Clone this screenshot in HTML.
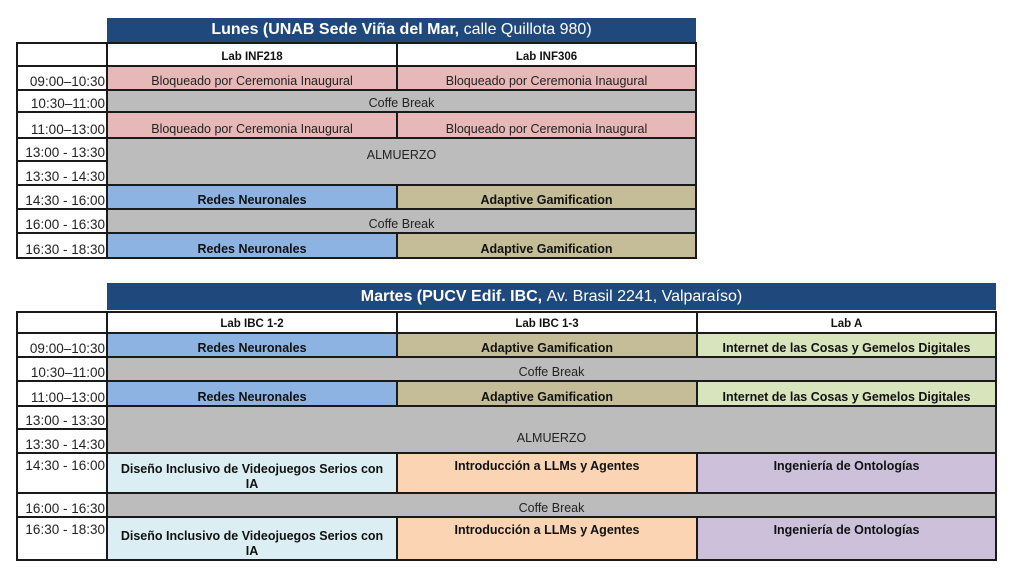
<!DOCTYPE html>
<html><head><meta charset="utf-8"><style>
html,body{margin:0;padding:0;background:#fff;width:1024px;height:575px;overflow:hidden}
body{position:relative;font-family:"Liberation Sans",sans-serif}
.c{position:absolute;box-sizing:border-box;border:2px solid #1a1a1a;display:flex;align-items:flex-end;justify-content:center;text-align:center;font-size:12.5px;color:#222;line-height:15px;padding-bottom:0px;overflow:hidden}
.b{font-weight:bold;color:#111}
.t{justify-content:flex-end;padding-right:1px;font-size:13.5px;background:#fff}
.tt{align-items:flex-start;padding-top:4px}
.h{font-weight:bold;font-size:11.5px;background:#fff;color:#111}
.ti{position:absolute;background:#1f497d;color:#fff;display:flex;align-items:center;justify-content:center;font-size:16px}
</style></head><body>
<div class="ti" style="left:107px;top:18px;width:589px;height:24px"><b>Lunes (UNAB Sede Viña del Mar,</b>&nbsp;calle Quillota 980)</div>
<div class="ti" style="left:107px;top:283px;width:889px;height:27px"><b>Martes (PUCV Edif. IBC,</b>&nbsp;Av. Brasil 2241, Valparaíso)</div>
<div id="root"></div>
<script>
var html='';
function cell(x1,y1,x2,y2,txt,cls,bg){html+='<div class="c '+(cls||'')+'" style="left:'+(x1-1)+'px;top:'+(y1-1)+'px;width:'+(x2-x1+2)+'px;height:'+(y2-y1+2)+'px;background:'+(bg||'#fff')+'">'+txt+'</div>';}
var P='#e6b8b7',G='#bcbcbc',B='#8db3e2',T='#c4bd97',GR='#d7e4bc',LB='#dbeef3',O='#fbd4b4',PU='#ccc0da';
var r=[43,66,90,112,138,161,185,209,233,258];
var times=['09:00–10:30','10:30–11:00','11:00–13:00','13:00 - 13:30','13:30 - 14:30','14:30 - 16:00','16:00 - 16:30','16:30 - 18:30'];
cell(17,r[0],107,r[1],'');
cell(107,r[0],397,r[1],'Lab INF218','h');cell(397,r[0],696,r[1],'Lab INF306','h');
for(var i=0;i<8;i++)cell(17,r[i+1],107,r[i+2],times[i],'t');
var BL='Bloqueado por Ceremonia Inaugural';
cell(107,r[1],397,r[2],BL,'',P);cell(397,r[1],696,r[2],BL,'',P);
cell(107,r[2],696,r[3],'Coffe Break','',G);
cell(107,r[3],397,r[4],BL,'',P);cell(397,r[3],696,r[4],BL,'',P);
cell(107,r[4],696,r[6],'<span style="position:relative;top:-21px">ALMUERZO</span>','',G);
cell(107,r[6],397,r[7],'Redes Neuronales','b',B);cell(397,r[6],696,r[7],'Adaptive Gamification','b',T);
cell(107,r[7],696,r[8],'Coffe Break','',G);
cell(107,r[8],397,r[9],'Redes Neuronales','b',B);cell(397,r[8],696,r[9],'Adaptive Gamification','b',T);
var s=[312,333,357,381,406,429,453,493,517,560];
cell(17,s[0],107,s[1],'');
cell(107,s[0],397,s[1],'Lab IBC 1-2','h');cell(397,s[0],697,s[1],'Lab IBC 1-3','h');cell(697,s[0],996,s[1],'Lab A','h');
for(var i=0;i<8;i++)cell(17,s[i+1],107,s[i+2],times[i],'t'+((i==5||i==7)?' tt':''));
var IoT='Internet de las Cosas y Gemelos Digitales';
cell(107,s[1],397,s[2],'Redes Neuronales','b',B);cell(397,s[1],697,s[2],'Adaptive Gamification','b',T);cell(697,s[1],996,s[2],IoT,'b',GR);
cell(107,s[2],996,s[3],'Coffe Break','',G);
cell(107,s[3],397,s[4],'Redes Neuronales','b',B);cell(397,s[3],697,s[4],'Adaptive Gamification','b',T);cell(697,s[3],996,s[4],IoT,'b',GR);
cell(107,s[4],996,s[6],'<span style="position:relative;top:-6px">ALMUERZO</span>','',G);
var D='Diseño Inclusivo de Videojuegos Serios con<br>IA';
function row(a,b){
cell(107,a,397,b,D,'b',LB);
cell(397,a,697,b,'<span style="position:absolute;top:5px;left:0;right:0">Introducción a LLMs y Agentes</span>','b',O);
cell(697,a,996,b,'<span style="position:absolute;top:5px;left:0;right:0">Ingeniería de Ontologías</span>','b',PU);}
row(s[6],s[7]);
cell(107,s[7],996,s[8],'Coffe Break','',G);
row(s[8],s[9]);
document.getElementById('root').innerHTML=html;
</script>
</body></html>
